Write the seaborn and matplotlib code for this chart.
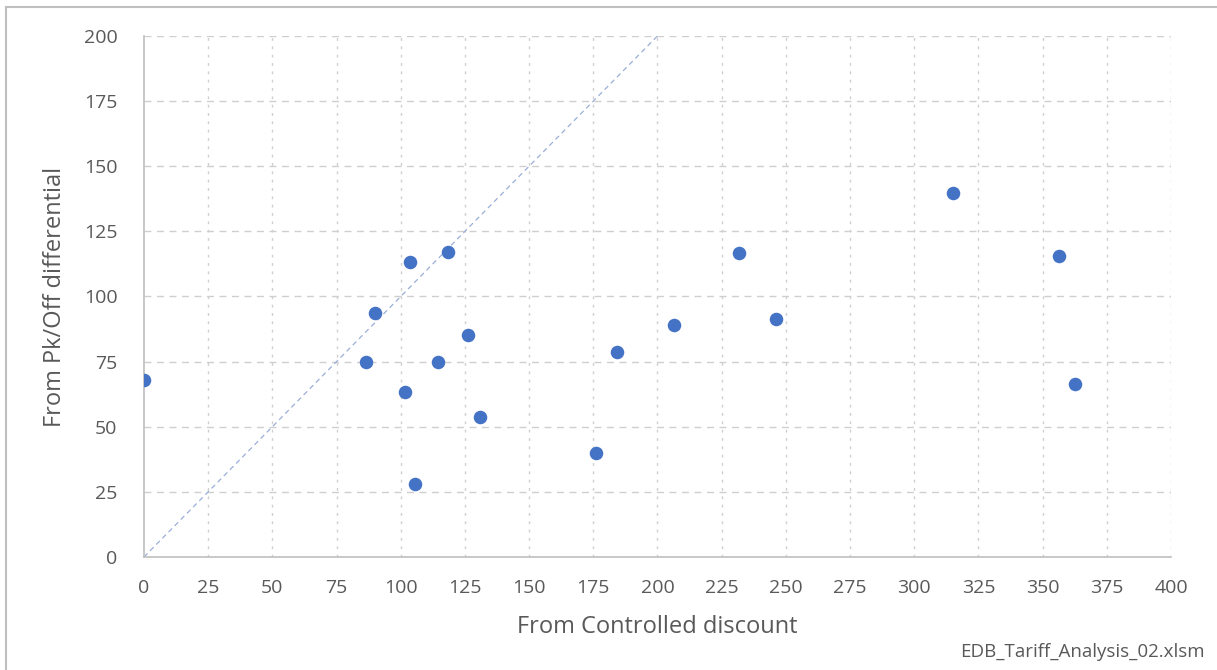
import pandas as pd
import seaborn as sns
import matplotlib.pyplot as plt
from matplotlib.patches import Rectangle

# 読み取った値 (From Controlled discount, From Pk/Off differential)
controlled_discount = [0, 86.6, 89.9, 101.6, 103.6, 105.4, 114.5, 118.4, 126.2, 131.0,
                       176.0, 184.4, 206.4, 231.7, 246.0, 315.0, 356.3, 362.7]
pk_off_differential = [67.8, 74.8, 93.5, 63.3, 113.1, 27.9, 74.8, 116.9, 85.3, 53.7,
                       40.1, 78.8, 89.2, 116.7, 91.4, 139.6, 115.4, 66.5]
diag_x = [0, 200]
diag_y = [0, 200]
x_ticks = list(range(0, 401, 25))
y_ticks = list(range(0, 201, 25))


def main():
    df = pd.DataFrame({"x": controlled_discount, "y": pk_off_differential})

    sns.set_theme(style="white")
    plt.rcParams["font.family"] = ["Open Sans", "DejaVu Sans"]

    fig = plt.figure(figsize=(12.17, 6.70), dpi=100)
    ax = fig.add_axes([0.1183, 0.1687, 0.8439, 0.7776])

    # 外枠
    fig.patches.append(Rectangle((0.005, -0.01), 1.2, 0.9996,
                                 transform=fig.transFigure, fill=False,
                                 edgecolor="#bfbfbf", linewidth=1.5))

    # 対角線 (y = x)
    sns.lineplot(x=diag_x, y=diag_y, ax=ax, color="#9aaed8", linewidth=0.9,
                 linestyle=(0, (4, 3)), zorder=2)

    sns.scatterplot(data=df, x="x", y="y", ax=ax, color="#4472C4", s=95,
                    edgecolor="#4472C4", linewidth=0, zorder=3)

    ax.set_xlim(0, 400)
    ax.set_ylim(0, 200)
    ax.set_xticks(x_ticks)
    ax.set_yticks(y_ticks)
    ax.tick_params(axis="both", length=0, labelsize=14, labelcolor="#595959")
    ax.tick_params(axis="x", pad=16)
    ax.tick_params(axis="y", pad=19)

    # グリッド: 横は破線、縦は細かい破線
    for yv in y_ticks[1:]:
        ax.axhline(yv, color="#cfcfcf", linewidth=1.0, linestyle=(0, (5, 4)), zorder=1)
    for xv in x_ticks[1:]:
        ax.axvline(xv, color="#cfcfcf", linewidth=1.0, linestyle=(0, (2, 4)), zorder=1)

    for side in ["top", "right"]:
        ax.spines[side].set_visible(False)
    for side in ["left", "bottom"]:
        ax.spines[side].set_color("#bfbfbf")
        ax.spines[side].set_linewidth(1.2)

    ax.set_xlabel("From Controlled discount", fontsize=17, color="#595959", labelpad=13)
    ax.set_ylabel("From Pk/Off differential", fontsize=17, color="#595959", labelpad=12)

    fig.text(0.99, 0.027, "EDB_Tariff_Analysis_02.xlsm", ha="right", va="center",
             fontsize=13.5, color="#595959")

    plt.savefig("out.png", dpi=100)
    plt.close()


if __name__ == "__main__":
    main()
